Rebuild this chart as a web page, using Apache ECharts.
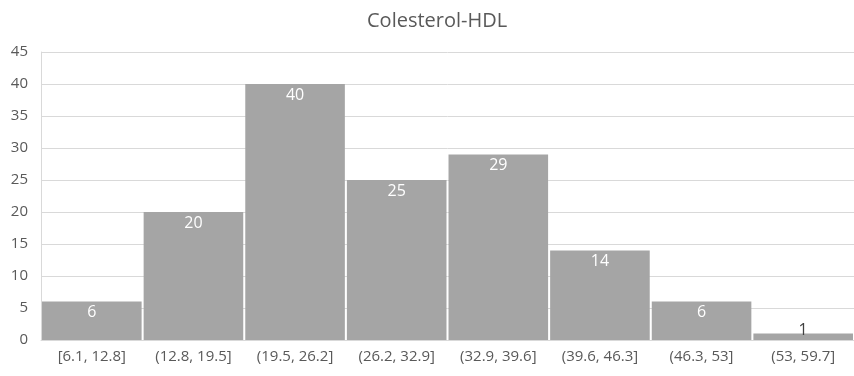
<!DOCTYPE html>
<html>
<head>
<meta charset="utf-8">
<script src="https://cdn.jsdelivr.net/npm/echarts@6/dist/echarts.min.js"></script>
<style>
  html, body { margin: 0; padding: 0; background: #fff; }
  #chart { width: 854px; height: 376px; }
</style>
</head>
<body>
<div id="chart"></div>
<script>
// Histogram of HDL cholesterol values, grouped into bins
const bins = ['[6.1, 12.8]', '(12.8, 19.5]', '(19.5, 26.2]', '(26.2, 32.9]', '(32.9, 39.6]', '(39.6, 46.3]', '(46.3, 53]', '(53, 59.7]'];
const counts = [6, 20, 40, 25, 29, 14, 6, 1];
const yTicks = { min: 0, max: 45, interval: 5 };

const FONT = '"Open Sans", "Noto Sans", sans-serif';
const TEXT = '#595959';
const GRID = '#d9d9d9';

const chart = echarts.init(document.getElementById('chart'));
chart.setOption({
  animation: false,
  title: {
    text: 'Colesterol-HDL',
    left: 362,
    top: 6,
    textStyle: { fontFamily: FONT, fontSize: 20, fontWeight: 'normal', color: TEXT }
  },
  grid: { left: 41, right: 0, top: 52, bottom: 36 },
  xAxis: {
    type: 'category',
    data: bins,
    axisLine: { show: true, lineStyle: { color: GRID, width: 1 } },
    axisTick: { show: false },
    axisLabel: { fontFamily: FONT, fontSize: 15, color: TEXT, margin: 9, interval: 0 }
  },
  yAxis: {
    type: 'value',
    min: yTicks.min,
    max: yTicks.max,
    interval: yTicks.interval,
    axisLine: { show: true, lineStyle: { color: GRID, width: 1 } },
    axisTick: { show: false },
    splitLine: { show: true, lineStyle: { color: GRID, width: 1 } },
    axisLabel: { fontFamily: FONT, fontSize: 15, color: TEXT, margin: 13 }
  },
  series: [{
    type: 'bar',
    data: counts.map(v => v < 3
      ? { value: v, label: { position: 'top', color: '#404040', distance: -5 } }
      : v),
    barCategoryGap: '2%',
    itemStyle: { color: '#a5a5a5' },
    label: {
      show: true,
      position: 'insideTop',
      distance: 3,
      color: '#ffffff',
      fontFamily: FONT,
      fontSize: 16
    }
  }]
});
</script>
</body>
</html>
